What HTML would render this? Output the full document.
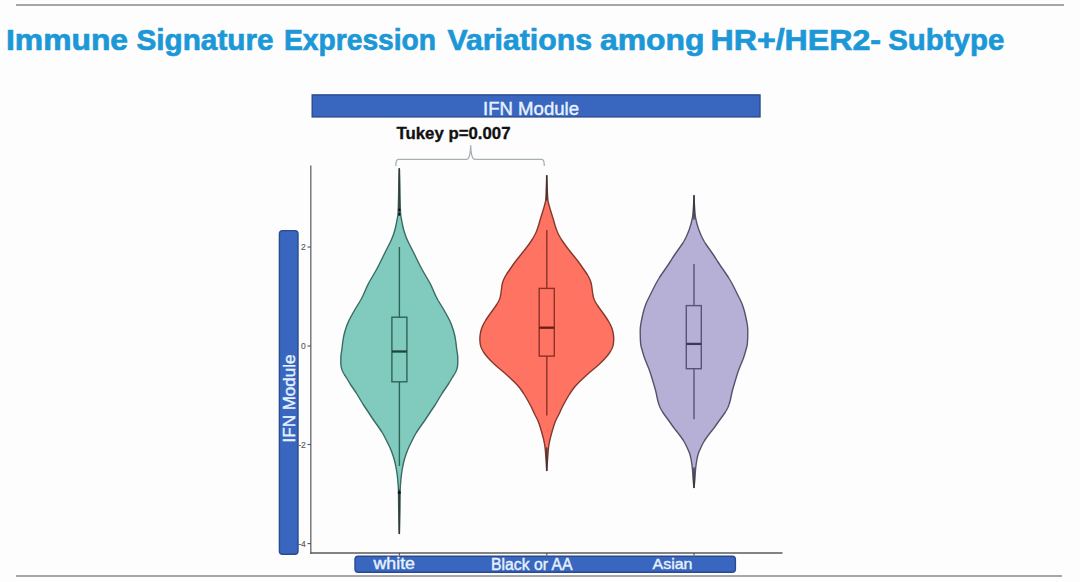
<!DOCTYPE html>
<html><head><meta charset="utf-8">
<style>
html,body{margin:0;padding:0;background:#fefdfe;}
body{width:1080px;height:582px;position:relative;overflow:hidden;font-family:"Liberation Sans",sans-serif;}
.t{position:absolute;white-space:nowrap;line-height:1;}
svg{position:absolute;left:0;top:0;}
.bx{stroke:#222;stroke-opacity:0.62;stroke-width:1.5;fill:none;}
.md{stroke:#1a1a1a;stroke-opacity:0.75;stroke-width:2.4;}
.vo{stroke:#222;stroke-opacity:0.68;stroke-width:1.45;}
</style></head><body>
<svg width="1080" height="582" viewBox="0 0 1080 582">
<line x1="16" y1="5" x2="1064" y2="5" stroke="#a6a6a6" stroke-width="2"/>
<line x1="16" y1="576" x2="1062" y2="576" stroke="#a8a8a8" stroke-width="2"/>
<rect x="312.2" y="94.9" width="447.8" height="22" fill="#3966BE" stroke="#2a4b8e" stroke-width="1.4"/>
<path d="M395.8,166 Q395.8,159.3 398.3,159.3 L466.5,159.3 Q470.4,159.3 470.7,145.2 Q471,159.3 474.9,159.3 L541.8,159.3 Q544.3,159.3 544.3,166" fill="none" stroke="#a6b0b2" stroke-width="1.3"/>
<line x1="310.8" y1="165.5" x2="310.8" y2="553.7" stroke="#707070" stroke-width="1.4"/>
<line x1="310.1" y1="553" x2="782.5" y2="553" stroke="#5a5a5a" stroke-width="1.4"/>
<g stroke="#505050" stroke-width="1.1"><line x1="399.4" y1="553" x2="399.4" y2="555.5"/><line x1="546.8" y1="553" x2="546.8" y2="555.5"/><line x1="694" y1="553" x2="694" y2="555.5"/></g>
<g stroke="#505050" stroke-width="1.1">
<line x1="307.5" y1="247" x2="310.8" y2="247"/>
<line x1="307.5" y1="346" x2="310.8" y2="346"/>
<line x1="307.5" y1="444.5" x2="310.8" y2="444.5"/>
<line x1="307.5" y1="543.6" x2="310.8" y2="543.6"/>
</g>
<g font-family="Liberation Sans" font-size="8.5" fill="#5a5a5a" stroke="#5a5a5a" stroke-width="0.15" text-anchor="end">
<text x="305.8" y="250">2</text>
<text x="305.8" y="349">0</text>
<text x="305.8" y="447.7">-2</text>
<text x="305.8" y="546.8">-4</text>
</g>
<rect x="279.4" y="230.6" width="18.6" height="323.6" rx="3.2" fill="#3966BE" stroke="#2a4b8e" stroke-width="1.4"/>
<rect x="355" y="556.3" width="380.4" height="16" rx="3.2" fill="#3966BE" stroke="#2a4b8e" stroke-width="1.4"/>
<path d="M399.30,168.00 L399.32,168.50 L399.33,169.00 L399.35,169.50 L399.37,170.00 L399.38,170.50 L399.40,171.00 L399.42,171.50 L399.43,172.00 L399.45,172.50 L399.47,173.00 L399.48,173.50 L399.50,174.00 L399.51,174.50 L399.53,175.00 L399.54,175.50 L399.56,176.00 L399.57,176.50 L399.59,177.00 L399.60,177.50 L399.62,178.00 L399.63,178.50 L399.64,179.00 L399.66,179.50 L399.67,180.00 L399.69,180.50 L399.70,181.00 L399.71,181.50 L399.73,182.00 L399.74,182.50 L399.75,183.00 L399.76,183.50 L399.78,184.00 L399.79,184.50 L399.80,185.00 L399.81,185.50 L399.82,186.00 L399.83,186.50 L399.84,187.00 L399.85,187.50 L399.86,188.00 L399.87,188.50 L399.88,189.00 L399.89,189.50 L399.90,190.00 L399.91,190.50 L399.92,191.00 L399.93,191.50 L399.94,192.00 L399.95,192.50 L399.95,193.00 L399.96,193.50 L399.97,194.00 L399.98,194.50 L399.99,195.00 L400.00,195.50 L400.01,196.00 L400.02,196.50 L400.03,197.00 L400.04,197.50 L400.05,198.00 L400.06,198.50 L400.08,199.00 L400.09,199.50 L400.10,200.00 L400.11,200.50 L400.13,201.00 L400.14,201.50 L400.15,202.00 L400.16,202.50 L400.18,203.00 L400.19,203.50 L400.20,204.00 L400.21,204.50 L400.23,205.00 L400.24,205.50 L400.26,206.00 L400.27,206.50 L400.29,207.00 L400.30,207.50 L400.32,208.00 L400.34,208.50 L400.36,209.00 L400.38,209.50 L400.40,210.00 L400.42,210.50 L400.44,211.00 L400.47,211.50 L400.50,212.00 L400.52,212.50 L400.55,213.00 L400.58,213.50 L400.61,214.00 L400.66,214.50 L400.71,215.00 L400.78,215.50 L400.85,216.00 L400.93,216.50 L401.02,217.00 L401.11,217.50 L401.20,218.00 L401.30,218.50 L401.40,219.00 L401.49,219.50 L401.59,220.00 L401.68,220.50 L401.77,221.00 L401.86,221.50 L401.96,222.00 L402.05,222.50 L402.14,223.00 L402.24,223.50 L402.34,224.00 L402.44,224.50 L402.54,225.00 L402.65,225.50 L402.76,226.00 L402.87,226.50 L402.98,227.00 L403.10,227.50 L403.22,228.00 L403.35,228.50 L403.48,229.00 L403.61,229.50 L403.75,230.00 L403.89,230.50 L404.03,231.00 L404.18,231.50 L404.33,232.00 L404.48,232.50 L404.64,233.00 L404.81,233.50 L404.97,234.00 L405.14,234.50 L405.31,235.00 L405.49,235.50 L405.68,236.00 L405.87,236.50 L406.07,237.00 L406.27,237.50 L406.47,238.00 L406.68,238.50 L406.89,239.00 L407.11,239.50 L407.33,240.00 L407.55,240.50 L407.78,241.00 L408.01,241.50 L408.24,242.00 L408.48,242.50 L408.73,243.00 L408.98,243.50 L409.23,244.00 L409.49,244.50 L409.74,245.00 L410.00,245.50 L410.26,246.00 L410.52,246.50 L410.78,247.00 L411.04,247.50 L411.29,248.00 L411.55,248.50 L411.80,249.00 L412.05,249.50 L412.30,250.00 L412.56,250.50 L412.81,251.00 L413.06,251.50 L413.31,252.00 L413.56,252.50 L413.80,253.00 L414.05,253.50 L414.30,254.00 L414.55,254.50 L414.79,255.00 L415.04,255.50 L415.28,256.00 L415.53,256.50 L415.77,257.00 L416.01,257.50 L416.25,258.00 L416.50,258.50 L416.74,259.00 L416.98,259.50 L417.23,260.00 L417.47,260.50 L417.72,261.00 L417.96,261.50 L418.21,262.00 L418.46,262.50 L418.71,263.00 L418.96,263.50 L419.21,264.00 L419.46,264.50 L419.72,265.00 L419.98,265.50 L420.23,266.00 L420.49,266.50 L420.75,267.00 L421.02,267.50 L421.28,268.00 L421.55,268.50 L421.82,269.00 L422.10,269.50 L422.37,270.00 L422.65,270.50 L422.93,271.00 L423.21,271.50 L423.49,272.00 L423.78,272.50 L424.07,273.00 L424.36,273.50 L424.64,274.00 L424.93,274.50 L425.23,275.00 L425.52,275.50 L425.81,276.00 L426.10,276.50 L426.40,277.00 L426.69,277.50 L426.99,278.00 L427.28,278.50 L427.58,279.00 L427.87,279.50 L428.17,280.00 L428.46,280.50 L428.75,281.00 L429.03,281.50 L429.31,282.00 L429.58,282.50 L429.85,283.00 L430.12,283.50 L430.38,284.00 L430.63,284.50 L430.88,285.00 L431.12,285.50 L431.36,286.00 L431.59,286.50 L431.82,287.00 L432.04,287.50 L432.27,288.00 L432.49,288.50 L432.70,289.00 L432.92,289.50 L433.13,290.00 L433.35,290.50 L433.56,291.00 L433.78,291.50 L433.99,292.00 L434.21,292.50 L434.43,293.00 L434.65,293.50 L434.87,294.00 L435.10,294.50 L435.33,295.00 L435.56,295.50 L435.80,296.00 L436.04,296.50 L436.29,297.00 L436.55,297.50 L436.81,298.00 L437.08,298.50 L437.35,299.00 L437.62,299.50 L437.91,300.00 L438.19,300.50 L438.49,301.00 L438.78,301.50 L439.08,302.00 L439.38,302.50 L439.69,303.00 L439.99,303.50 L440.30,304.00 L440.61,304.50 L440.92,305.00 L441.23,305.50 L441.54,306.00 L441.85,306.50 L442.15,307.00 L442.46,307.50 L442.76,308.00 L443.06,308.50 L443.36,309.00 L443.65,309.50 L443.94,310.00 L444.23,310.50 L444.51,311.00 L444.80,311.50 L445.08,312.00 L445.36,312.50 L445.64,313.00 L445.92,313.50 L446.19,314.00 L446.47,314.50 L446.75,315.00 L447.02,315.50 L447.29,316.00 L447.57,316.50 L447.84,317.00 L448.10,317.50 L448.37,318.00 L448.63,318.50 L448.89,319.00 L449.14,319.50 L449.39,320.00 L449.63,320.50 L449.87,321.00 L450.10,321.50 L450.33,322.00 L450.55,322.50 L450.76,323.00 L450.97,323.50 L451.17,324.00 L451.37,324.50 L451.56,325.00 L451.74,325.50 L451.92,326.00 L452.10,326.50 L452.27,327.00 L452.44,327.50 L452.61,328.00 L452.77,328.50 L452.93,329.00 L453.09,329.50 L453.24,330.00 L453.39,330.50 L453.54,331.00 L453.68,331.50 L453.82,332.00 L453.96,332.50 L454.09,333.00 L454.22,333.50 L454.35,334.00 L454.47,334.50 L454.59,335.00 L454.71,335.50 L454.82,336.00 L454.93,336.50 L455.03,337.00 L455.13,337.50 L455.22,338.00 L455.31,338.50 L455.40,339.00 L455.48,339.50 L455.56,340.00 L455.64,340.50 L455.71,341.00 L455.78,341.50 L455.85,342.00 L455.91,342.50 L455.98,343.00 L456.04,343.50 L456.10,344.00 L456.16,344.50 L456.21,345.00 L456.27,345.50 L456.33,346.00 L456.39,346.50 L456.44,347.00 L456.50,347.50 L456.57,348.00 L456.63,348.50 L456.69,349.00 L456.76,349.50 L456.83,350.00 L456.91,350.50 L456.99,351.00 L457.06,351.50 L457.14,352.00 L457.23,352.50 L457.30,353.00 L457.38,353.50 L457.45,354.00 L457.52,354.50 L457.58,355.00 L457.63,355.50 L457.67,356.00 L457.71,356.50 L457.74,357.00 L457.76,357.50 L457.77,358.00 L457.78,358.50 L457.79,359.00 L457.79,359.50 L457.80,360.00 L457.80,360.50 L457.80,361.00 L457.79,361.50 L457.79,362.00 L457.78,362.50 L457.76,363.00 L457.75,363.50 L457.72,364.00 L457.68,364.50 L457.63,365.00 L457.58,365.50 L457.51,366.00 L457.42,366.50 L457.33,367.00 L457.22,367.50 L457.10,368.00 L456.96,368.50 L456.82,369.00 L456.66,369.50 L456.49,370.00 L456.30,370.50 L456.10,371.00 L455.88,371.50 L455.64,372.00 L455.39,372.50 L455.12,373.00 L454.84,373.50 L454.54,374.00 L454.24,374.50 L453.93,375.00 L453.61,375.50 L453.29,376.00 L452.98,376.50 L452.66,377.00 L452.35,377.50 L452.04,378.00 L451.74,378.50 L451.44,379.00 L451.14,379.50 L450.84,380.00 L450.55,380.50 L450.25,381.00 L449.95,381.50 L449.65,382.00 L449.34,382.50 L449.04,383.00 L448.72,383.50 L448.41,384.00 L448.08,384.50 L447.76,385.00 L447.42,385.50 L447.08,386.00 L446.74,386.50 L446.40,387.00 L446.05,387.50 L445.70,388.00 L445.35,388.50 L445.00,389.00 L444.66,389.50 L444.32,390.00 L443.98,390.50 L443.64,391.00 L443.31,391.50 L442.99,392.00 L442.67,392.50 L442.35,393.00 L442.04,393.50 L441.73,394.00 L441.42,394.50 L441.11,395.00 L440.81,395.50 L440.51,396.00 L440.21,396.50 L439.90,397.00 L439.60,397.50 L439.31,398.00 L439.01,398.50 L438.71,399.00 L438.41,399.50 L438.11,400.00 L437.82,400.50 L437.52,401.00 L437.22,401.50 L436.92,402.00 L436.62,402.50 L436.31,403.00 L436.00,403.50 L435.69,404.00 L435.38,404.50 L435.06,405.00 L434.73,405.50 L434.41,406.00 L434.07,406.50 L433.74,407.00 L433.40,407.50 L433.06,408.00 L432.71,408.50 L432.37,409.00 L432.03,409.50 L431.68,410.00 L431.34,410.50 L431.00,411.00 L430.67,411.50 L430.33,412.00 L430.00,412.50 L429.67,413.00 L429.35,413.50 L429.02,414.00 L428.70,414.50 L428.38,415.00 L428.06,415.50 L427.74,416.00 L427.41,416.50 L427.09,417.00 L426.76,417.50 L426.43,418.00 L426.10,418.50 L425.76,419.00 L425.42,419.50 L425.08,420.00 L424.73,420.50 L424.38,421.00 L424.02,421.50 L423.66,422.00 L423.31,422.50 L422.95,423.00 L422.59,423.50 L422.23,424.00 L421.88,424.50 L421.52,425.00 L421.17,425.50 L420.81,426.00 L420.46,426.50 L420.11,427.00 L419.76,427.50 L419.42,428.00 L419.07,428.50 L418.73,429.00 L418.39,429.50 L418.05,430.00 L417.72,430.50 L417.39,431.00 L417.07,431.50 L416.75,432.00 L416.44,432.50 L416.13,433.00 L415.84,433.50 L415.54,434.00 L415.26,434.50 L414.98,435.00 L414.70,435.50 L414.43,436.00 L414.17,436.50 L413.91,437.00 L413.65,437.50 L413.40,438.00 L413.15,438.50 L412.89,439.00 L412.64,439.50 L412.39,440.00 L412.14,440.50 L411.89,441.00 L411.64,441.50 L411.39,442.00 L411.13,442.50 L410.88,443.00 L410.63,443.50 L410.38,444.00 L410.13,444.50 L409.88,445.00 L409.64,445.50 L409.40,446.00 L409.17,446.50 L408.94,447.00 L408.72,447.50 L408.50,448.00 L408.28,448.50 L408.07,449.00 L407.86,449.50 L407.66,450.00 L407.46,450.50 L407.26,451.00 L407.06,451.50 L406.87,452.00 L406.69,452.50 L406.50,453.00 L406.32,453.50 L406.14,454.00 L405.97,454.50 L405.80,455.00 L405.63,455.50 L405.46,456.00 L405.30,456.50 L405.14,457.00 L404.98,457.50 L404.83,458.00 L404.67,458.50 L404.53,459.00 L404.38,459.50 L404.24,460.00 L404.11,460.50 L403.98,461.00 L403.85,461.50 L403.73,462.00 L403.61,462.50 L403.50,463.00 L403.39,463.50 L403.28,464.00 L403.17,464.50 L403.07,465.00 L402.97,465.50 L402.87,466.00 L402.78,466.50 L402.68,467.00 L402.59,467.50 L402.50,468.00 L402.41,468.50 L402.32,469.00 L402.23,469.50 L402.15,470.00 L402.06,470.50 L401.98,471.00 L401.90,471.50 L401.82,472.00 L401.74,472.50 L401.67,473.00 L401.60,473.50 L401.53,474.00 L401.46,474.50 L401.40,475.00 L401.34,475.50 L401.28,476.00 L401.23,476.50 L401.17,477.00 L401.12,477.50 L401.07,478.00 L401.02,478.50 L400.97,479.00 L400.92,479.50 L400.87,480.00 L400.83,480.50 L400.79,481.00 L400.74,481.50 L400.70,482.00 L400.66,482.50 L400.61,483.00 L400.57,483.50 L400.53,484.00 L400.48,484.50 L400.44,485.00 L400.40,485.50 L400.36,486.00 L400.33,486.50 L400.29,487.00 L400.26,487.50 L400.24,488.00 L400.22,488.50 L400.20,489.00 L400.19,489.50 L400.17,490.00 L400.16,490.50 L400.15,491.00 L400.14,491.50 L400.13,492.00 L400.12,492.50 L400.11,493.00 L400.10,493.50 L400.10,494.00 L400.09,494.50 L400.08,495.00 L400.07,495.50 L400.07,496.00 L400.06,496.50 L400.05,497.00 L400.05,497.50 L400.04,498.00 L400.04,498.50 L400.03,499.00 L400.03,499.50 L400.02,500.00 L400.02,500.50 L400.01,501.00 L400.01,501.50 L400.00,502.00 L400.00,502.50 L399.99,503.00 L399.99,503.50 L399.98,504.00 L399.98,504.50 L399.97,505.00 L399.97,505.50 L399.96,506.00 L399.95,506.50 L399.95,507.00 L399.94,507.50 L399.93,508.00 L399.93,508.50 L399.92,509.00 L399.91,509.50 L399.90,510.00 L399.89,510.50 L399.88,511.00 L399.87,511.50 L399.86,512.00 L399.85,512.50 L399.84,513.00 L399.83,513.50 L399.82,514.00 L399.81,514.50 L399.80,515.00 L399.79,515.50 L399.78,516.00 L399.77,516.50 L399.76,517.00 L399.75,517.50 L399.73,518.00 L399.72,518.50 L399.71,519.00 L399.70,519.50 L399.69,520.00 L399.68,520.50 L399.66,521.00 L399.65,521.50 L399.64,522.00 L399.63,522.50 L399.61,523.00 L399.60,523.50 L399.59,524.00 L399.57,524.50 L399.56,525.00 L399.55,525.50 L399.53,526.00 L399.52,526.50 L399.51,527.00 L399.49,527.50 L399.48,528.00 L399.46,528.50 L399.45,529.00 L399.43,529.50 L399.42,530.00 L399.41,530.50 L399.39,531.00 L399.38,531.50 L399.36,532.00 L399.35,532.50 L399.33,533.00 L399.32,533.50 L399.30,534.00 L399.30,534.00 L399.28,533.50 L399.27,533.00 L399.25,532.50 L399.24,532.00 L399.22,531.50 L399.21,531.00 L399.19,530.50 L399.18,530.00 L399.17,529.50 L399.15,529.00 L399.14,528.50 L399.12,528.00 L399.11,527.50 L399.09,527.00 L399.08,526.50 L399.07,526.00 L399.05,525.50 L399.04,525.00 L399.03,524.50 L399.01,524.00 L399.00,523.50 L398.99,523.00 L398.97,522.50 L398.96,522.00 L398.95,521.50 L398.94,521.00 L398.92,520.50 L398.91,520.00 L398.90,519.50 L398.89,519.00 L398.88,518.50 L398.87,518.00 L398.85,517.50 L398.84,517.00 L398.83,516.50 L398.82,516.00 L398.81,515.50 L398.80,515.00 L398.79,514.50 L398.78,514.00 L398.77,513.50 L398.76,513.00 L398.75,512.50 L398.74,512.00 L398.73,511.50 L398.72,511.00 L398.71,510.50 L398.70,510.00 L398.69,509.50 L398.68,509.00 L398.67,508.50 L398.67,508.00 L398.66,507.50 L398.65,507.00 L398.65,506.50 L398.64,506.00 L398.63,505.50 L398.63,505.00 L398.62,504.50 L398.62,504.00 L398.61,503.50 L398.61,503.00 L398.60,502.50 L398.60,502.00 L398.59,501.50 L398.59,501.00 L398.58,500.50 L398.58,500.00 L398.57,499.50 L398.57,499.00 L398.56,498.50 L398.56,498.00 L398.55,497.50 L398.55,497.00 L398.54,496.50 L398.53,496.00 L398.53,495.50 L398.52,495.00 L398.51,494.50 L398.50,494.00 L398.50,493.50 L398.49,493.00 L398.48,492.50 L398.47,492.00 L398.46,491.50 L398.45,491.00 L398.44,490.50 L398.43,490.00 L398.41,489.50 L398.40,489.00 L398.38,488.50 L398.36,488.00 L398.34,487.50 L398.31,487.00 L398.27,486.50 L398.24,486.00 L398.20,485.50 L398.16,485.00 L398.12,484.50 L398.07,484.00 L398.03,483.50 L397.99,483.00 L397.94,482.50 L397.90,482.00 L397.86,481.50 L397.81,481.00 L397.77,480.50 L397.73,480.00 L397.68,479.50 L397.63,479.00 L397.58,478.50 L397.53,478.00 L397.48,477.50 L397.43,477.00 L397.37,476.50 L397.32,476.00 L397.26,475.50 L397.20,475.00 L397.14,474.50 L397.07,474.00 L397.00,473.50 L396.93,473.00 L396.86,472.50 L396.78,472.00 L396.70,471.50 L396.62,471.00 L396.54,470.50 L396.45,470.00 L396.37,469.50 L396.28,469.00 L396.19,468.50 L396.10,468.00 L396.01,467.50 L395.92,467.00 L395.82,466.50 L395.73,466.00 L395.63,465.50 L395.53,465.00 L395.43,464.50 L395.32,464.00 L395.21,463.50 L395.10,463.00 L394.99,462.50 L394.87,462.00 L394.75,461.50 L394.62,461.00 L394.49,460.50 L394.36,460.00 L394.22,459.50 L394.07,459.00 L393.93,458.50 L393.77,458.00 L393.62,457.50 L393.46,457.00 L393.30,456.50 L393.14,456.00 L392.97,455.50 L392.80,455.00 L392.63,454.50 L392.46,454.00 L392.28,453.50 L392.10,453.00 L391.91,452.50 L391.73,452.00 L391.54,451.50 L391.34,451.00 L391.14,450.50 L390.94,450.00 L390.74,449.50 L390.53,449.00 L390.32,448.50 L390.10,448.00 L389.88,447.50 L389.66,447.00 L389.43,446.50 L389.20,446.00 L388.96,445.50 L388.72,445.00 L388.47,444.50 L388.22,444.00 L387.97,443.50 L387.72,443.00 L387.47,442.50 L387.21,442.00 L386.96,441.50 L386.71,441.00 L386.46,440.50 L386.21,440.00 L385.96,439.50 L385.71,439.00 L385.45,438.50 L385.20,438.00 L384.95,437.50 L384.69,437.00 L384.43,436.50 L384.17,436.00 L383.90,435.50 L383.62,435.00 L383.34,434.50 L383.06,434.00 L382.76,433.50 L382.47,433.00 L382.16,432.50 L381.85,432.00 L381.53,431.50 L381.21,431.00 L380.88,430.50 L380.55,430.00 L380.21,429.50 L379.87,429.00 L379.53,428.50 L379.18,428.00 L378.84,427.50 L378.49,427.00 L378.14,426.50 L377.79,426.00 L377.43,425.50 L377.08,425.00 L376.72,424.50 L376.37,424.00 L376.01,423.50 L375.65,423.00 L375.29,422.50 L374.94,422.00 L374.58,421.50 L374.22,421.00 L373.87,420.50 L373.52,420.00 L373.18,419.50 L372.84,419.00 L372.50,418.50 L372.17,418.00 L371.84,417.50 L371.51,417.00 L371.19,416.50 L370.86,416.00 L370.54,415.50 L370.22,415.00 L369.90,414.50 L369.58,414.00 L369.25,413.50 L368.93,413.00 L368.60,412.50 L368.27,412.00 L367.93,411.50 L367.60,411.00 L367.26,410.50 L366.92,410.00 L366.57,409.50 L366.23,409.00 L365.89,408.50 L365.54,408.00 L365.20,407.50 L364.86,407.00 L364.53,406.50 L364.19,406.00 L363.87,405.50 L363.54,405.00 L363.22,404.50 L362.91,404.00 L362.60,403.50 L362.29,403.00 L361.98,402.50 L361.68,402.00 L361.38,401.50 L361.08,401.00 L360.78,400.50 L360.49,400.00 L360.19,399.50 L359.89,399.00 L359.59,398.50 L359.29,398.00 L359.00,397.50 L358.70,397.00 L358.39,396.50 L358.09,396.00 L357.79,395.50 L357.49,395.00 L357.18,394.50 L356.87,394.00 L356.56,393.50 L356.25,393.00 L355.93,392.50 L355.61,392.00 L355.29,391.50 L354.96,391.00 L354.62,390.50 L354.28,390.00 L353.94,389.50 L353.60,389.00 L353.25,388.50 L352.90,388.00 L352.55,387.50 L352.20,387.00 L351.86,386.50 L351.52,386.00 L351.18,385.50 L350.84,385.00 L350.52,384.50 L350.19,384.00 L349.88,383.50 L349.56,383.00 L349.26,382.50 L348.95,382.00 L348.65,381.50 L348.35,381.00 L348.05,380.50 L347.76,380.00 L347.46,379.50 L347.16,379.00 L346.86,378.50 L346.56,378.00 L346.25,377.50 L345.94,377.00 L345.62,376.50 L345.31,376.00 L344.99,375.50 L344.67,375.00 L344.36,374.50 L344.06,374.00 L343.76,373.50 L343.48,373.00 L343.21,372.50 L342.96,372.00 L342.72,371.50 L342.50,371.00 L342.30,370.50 L342.11,370.00 L341.94,369.50 L341.78,369.00 L341.64,368.50 L341.50,368.00 L341.38,367.50 L341.27,367.00 L341.18,366.50 L341.09,366.00 L341.02,365.50 L340.97,365.00 L340.92,364.50 L340.88,364.00 L340.85,363.50 L340.84,363.00 L340.82,362.50 L340.81,362.00 L340.81,361.50 L340.80,361.00 L340.80,360.50 L340.80,360.00 L340.81,359.50 L340.81,359.00 L340.82,358.50 L340.83,358.00 L340.84,357.50 L340.86,357.00 L340.89,356.50 L340.93,356.00 L340.97,355.50 L341.02,355.00 L341.08,354.50 L341.15,354.00 L341.22,353.50 L341.30,353.00 L341.37,352.50 L341.46,352.00 L341.54,351.50 L341.61,351.00 L341.69,350.50 L341.77,350.00 L341.84,349.50 L341.91,349.00 L341.97,348.50 L342.03,348.00 L342.10,347.50 L342.16,347.00 L342.21,346.50 L342.27,346.00 L342.33,345.50 L342.39,345.00 L342.44,344.50 L342.50,344.00 L342.56,343.50 L342.62,343.00 L342.69,342.50 L342.75,342.00 L342.82,341.50 L342.89,341.00 L342.96,340.50 L343.04,340.00 L343.12,339.50 L343.20,339.00 L343.29,338.50 L343.38,338.00 L343.47,337.50 L343.57,337.00 L343.67,336.50 L343.78,336.00 L343.89,335.50 L344.01,335.00 L344.13,334.50 L344.25,334.00 L344.38,333.50 L344.51,333.00 L344.64,332.50 L344.78,332.00 L344.92,331.50 L345.06,331.00 L345.21,330.50 L345.36,330.00 L345.51,329.50 L345.67,329.00 L345.83,328.50 L345.99,328.00 L346.16,327.50 L346.33,327.00 L346.50,326.50 L346.68,326.00 L346.86,325.50 L347.04,325.00 L347.23,324.50 L347.43,324.00 L347.63,323.50 L347.84,323.00 L348.05,322.50 L348.27,322.00 L348.50,321.50 L348.73,321.00 L348.97,320.50 L349.21,320.00 L349.46,319.50 L349.71,319.00 L349.97,318.50 L350.23,318.00 L350.50,317.50 L350.76,317.00 L351.03,316.50 L351.31,316.00 L351.58,315.50 L351.85,315.00 L352.13,314.50 L352.41,314.00 L352.68,313.50 L352.96,313.00 L353.24,312.50 L353.52,312.00 L353.80,311.50 L354.09,311.00 L354.37,310.50 L354.66,310.00 L354.95,309.50 L355.24,309.00 L355.54,308.50 L355.84,308.00 L356.14,307.50 L356.45,307.00 L356.75,306.50 L357.06,306.00 L357.37,305.50 L357.68,305.00 L357.99,304.50 L358.30,304.00 L358.61,303.50 L358.91,303.00 L359.22,302.50 L359.52,302.00 L359.82,301.50 L360.11,301.00 L360.41,300.50 L360.69,300.00 L360.98,299.50 L361.25,299.00 L361.52,298.50 L361.79,298.00 L362.05,297.50 L362.31,297.00 L362.56,296.50 L362.80,296.00 L363.04,295.50 L363.27,295.00 L363.50,294.50 L363.73,294.00 L363.95,293.50 L364.17,293.00 L364.39,292.50 L364.61,292.00 L364.82,291.50 L365.04,291.00 L365.25,290.50 L365.47,290.00 L365.68,289.50 L365.90,289.00 L366.11,288.50 L366.33,288.00 L366.56,287.50 L366.78,287.00 L367.01,286.50 L367.24,286.00 L367.48,285.50 L367.72,285.00 L367.97,284.50 L368.22,284.00 L368.48,283.50 L368.75,283.00 L369.02,282.50 L369.29,282.00 L369.57,281.50 L369.85,281.00 L370.14,280.50 L370.43,280.00 L370.73,279.50 L371.02,279.00 L371.32,278.50 L371.61,278.00 L371.91,277.50 L372.20,277.00 L372.50,276.50 L372.79,276.00 L373.08,275.50 L373.37,275.00 L373.67,274.50 L373.96,274.00 L374.24,273.50 L374.53,273.00 L374.82,272.50 L375.11,272.00 L375.39,271.50 L375.67,271.00 L375.95,270.50 L376.23,270.00 L376.50,269.50 L376.78,269.00 L377.05,268.50 L377.32,268.00 L377.58,267.50 L377.85,267.00 L378.11,266.50 L378.37,266.00 L378.62,265.50 L378.88,265.00 L379.14,264.50 L379.39,264.00 L379.64,263.50 L379.89,263.00 L380.14,262.50 L380.39,262.00 L380.64,261.50 L380.88,261.00 L381.13,260.50 L381.37,260.00 L381.62,259.50 L381.86,259.00 L382.10,258.50 L382.35,258.00 L382.59,257.50 L382.83,257.00 L383.07,256.50 L383.32,256.00 L383.56,255.50 L383.81,255.00 L384.05,254.50 L384.30,254.00 L384.55,253.50 L384.80,253.00 L385.04,252.50 L385.29,252.00 L385.54,251.50 L385.79,251.00 L386.04,250.50 L386.30,250.00 L386.55,249.50 L386.80,249.00 L387.05,248.50 L387.31,248.00 L387.56,247.50 L387.82,247.00 L388.08,246.50 L388.34,246.00 L388.60,245.50 L388.86,245.00 L389.11,244.50 L389.37,244.00 L389.62,243.50 L389.87,243.00 L390.12,242.50 L390.36,242.00 L390.59,241.50 L390.82,241.00 L391.05,240.50 L391.27,240.00 L391.49,239.50 L391.71,239.00 L391.92,238.50 L392.13,238.00 L392.33,237.50 L392.53,237.00 L392.73,236.50 L392.92,236.00 L393.11,235.50 L393.29,235.00 L393.46,234.50 L393.63,234.00 L393.79,233.50 L393.96,233.00 L394.12,232.50 L394.27,232.00 L394.42,231.50 L394.57,231.00 L394.71,230.50 L394.85,230.00 L394.99,229.50 L395.12,229.00 L395.25,228.50 L395.38,228.00 L395.50,227.50 L395.62,227.00 L395.73,226.50 L395.84,226.00 L395.95,225.50 L396.06,225.00 L396.16,224.50 L396.26,224.00 L396.36,223.50 L396.46,223.00 L396.55,222.50 L396.64,222.00 L396.74,221.50 L396.83,221.00 L396.92,220.50 L397.01,220.00 L397.11,219.50 L397.20,219.00 L397.30,218.50 L397.40,218.00 L397.49,217.50 L397.58,217.00 L397.67,216.50 L397.75,216.00 L397.82,215.50 L397.89,215.00 L397.94,214.50 L397.99,214.00 L398.02,213.50 L398.05,213.00 L398.08,212.50 L398.10,212.00 L398.13,211.50 L398.16,211.00 L398.18,210.50 L398.20,210.00 L398.22,209.50 L398.24,209.00 L398.26,208.50 L398.28,208.00 L398.30,207.50 L398.31,207.00 L398.33,206.50 L398.34,206.00 L398.36,205.50 L398.37,205.00 L398.39,204.50 L398.40,204.00 L398.41,203.50 L398.42,203.00 L398.44,202.50 L398.45,202.00 L398.46,201.50 L398.47,201.00 L398.49,200.50 L398.50,200.00 L398.51,199.50 L398.52,199.00 L398.54,198.50 L398.55,198.00 L398.56,197.50 L398.57,197.00 L398.58,196.50 L398.59,196.00 L398.60,195.50 L398.61,195.00 L398.62,194.50 L398.63,194.00 L398.64,193.50 L398.65,193.00 L398.65,192.50 L398.66,192.00 L398.67,191.50 L398.68,191.00 L398.69,190.50 L398.70,190.00 L398.71,189.50 L398.72,189.00 L398.73,188.50 L398.74,188.00 L398.75,187.50 L398.76,187.00 L398.77,186.50 L398.78,186.00 L398.79,185.50 L398.80,185.00 L398.81,184.50 L398.82,184.00 L398.84,183.50 L398.85,183.00 L398.86,182.50 L398.87,182.00 L398.89,181.50 L398.90,181.00 L398.91,180.50 L398.93,180.00 L398.94,179.50 L398.96,179.00 L398.97,178.50 L398.98,178.00 L399.00,177.50 L399.01,177.00 L399.03,176.50 L399.04,176.00 L399.06,175.50 L399.07,175.00 L399.09,174.50 L399.10,174.00 L399.12,173.50 L399.13,173.00 L399.15,172.50 L399.17,172.00 L399.18,171.50 L399.20,171.00 L399.22,170.50 L399.23,170.00 L399.25,169.50 L399.27,169.00 L399.28,168.50 L399.30,168.00Z" fill="#80CBBE" stroke="#3a6a60" stroke-width="1.4"/>
<path d="M546.80,175.00 L546.81,175.50 L546.82,176.00 L546.83,176.50 L546.84,177.00 L546.85,177.50 L546.86,178.00 L546.88,178.50 L546.89,179.00 L546.90,179.50 L546.92,180.00 L546.93,180.50 L546.95,181.00 L546.97,181.50 L546.98,182.00 L547.00,182.50 L547.02,183.00 L547.04,183.50 L547.05,184.00 L547.07,184.50 L547.09,185.00 L547.11,185.50 L547.13,186.00 L547.15,186.50 L547.17,187.00 L547.19,187.50 L547.21,188.00 L547.24,188.50 L547.26,189.00 L547.28,189.50 L547.30,190.00 L547.32,190.50 L547.34,191.00 L547.36,191.50 L547.39,192.00 L547.41,192.50 L547.43,193.00 L547.45,193.50 L547.48,194.00 L547.50,194.50 L547.53,195.00 L547.56,195.50 L547.59,196.00 L547.62,196.50 L547.65,197.00 L547.69,197.50 L547.72,198.00 L547.76,198.50 L547.81,199.00 L547.85,199.50 L547.90,200.00 L547.96,200.50 L548.03,201.00 L548.12,201.50 L548.22,202.00 L548.33,202.50 L548.45,203.00 L548.57,203.50 L548.70,204.00 L548.84,204.50 L548.98,205.00 L549.12,205.50 L549.26,206.00 L549.39,206.50 L549.53,207.00 L549.66,207.50 L549.80,208.00 L549.95,208.50 L550.10,209.00 L550.25,209.50 L550.40,210.00 L550.56,210.50 L550.72,211.00 L550.88,211.50 L551.04,212.00 L551.19,212.50 L551.35,213.00 L551.51,213.50 L551.66,214.00 L551.82,214.50 L551.97,215.00 L552.13,215.50 L552.28,216.00 L552.44,216.50 L552.59,217.00 L552.75,217.50 L552.90,218.00 L553.06,218.50 L553.21,219.00 L553.37,219.50 L553.52,220.00 L553.67,220.50 L553.81,221.00 L553.96,221.50 L554.10,222.00 L554.24,222.50 L554.38,223.00 L554.52,223.50 L554.66,224.00 L554.80,224.50 L554.94,225.00 L555.09,225.50 L555.24,226.00 L555.39,226.50 L555.55,227.00 L555.72,227.50 L555.89,228.00 L556.06,228.50 L556.24,229.00 L556.43,229.50 L556.62,230.00 L556.82,230.50 L557.02,231.00 L557.22,231.50 L557.44,232.00 L557.65,232.50 L557.88,233.00 L558.11,233.50 L558.35,234.00 L558.59,234.50 L558.84,235.00 L559.11,235.50 L559.38,236.00 L559.66,236.50 L559.94,237.00 L560.23,237.50 L560.53,238.00 L560.84,238.50 L561.15,239.00 L561.46,239.50 L561.78,240.00 L562.11,240.50 L562.43,241.00 L562.77,241.50 L563.10,242.00 L563.44,242.50 L563.79,243.00 L564.14,243.50 L564.49,244.00 L564.85,244.50 L565.21,245.00 L565.57,245.50 L565.94,246.00 L566.31,246.50 L566.69,247.00 L567.07,247.50 L567.45,248.00 L567.83,248.50 L568.22,249.00 L568.61,249.50 L569.00,250.00 L569.39,250.50 L569.79,251.00 L570.19,251.50 L570.59,252.00 L570.99,252.50 L571.39,253.00 L571.79,253.50 L572.20,254.00 L572.60,254.50 L573.00,255.00 L573.41,255.50 L573.81,256.00 L574.21,256.50 L574.62,257.00 L575.02,257.50 L575.42,258.00 L575.82,258.50 L576.22,259.00 L576.61,259.50 L577.01,260.00 L577.39,260.50 L577.78,261.00 L578.16,261.50 L578.53,262.00 L578.90,262.50 L579.27,263.00 L579.63,263.50 L579.99,264.00 L580.34,264.50 L580.69,265.00 L581.04,265.50 L581.39,266.00 L581.73,266.50 L582.08,267.00 L582.42,267.50 L582.77,268.00 L583.11,268.50 L583.46,269.00 L583.81,269.50 L584.16,270.00 L584.51,270.50 L584.86,271.00 L585.21,271.50 L585.56,272.00 L585.91,272.50 L586.25,273.00 L586.58,273.50 L586.91,274.00 L587.23,274.50 L587.54,275.00 L587.84,275.50 L588.13,276.00 L588.40,276.50 L588.67,277.00 L588.93,277.50 L589.18,278.00 L589.42,278.50 L589.65,279.00 L589.87,279.50 L590.08,280.00 L590.28,280.50 L590.46,281.00 L590.64,281.50 L590.81,282.00 L590.96,282.50 L591.10,283.00 L591.23,283.50 L591.34,284.00 L591.45,284.50 L591.54,285.00 L591.63,285.50 L591.71,286.00 L591.78,286.50 L591.85,287.00 L591.92,287.50 L591.98,288.00 L592.04,288.50 L592.11,289.00 L592.17,289.50 L592.23,290.00 L592.30,290.50 L592.36,291.00 L592.43,291.50 L592.50,292.00 L592.57,292.50 L592.64,293.00 L592.71,293.50 L592.79,294.00 L592.87,294.50 L592.96,295.00 L593.05,295.50 L593.16,296.00 L593.27,296.50 L593.39,297.00 L593.53,297.50 L593.69,298.00 L593.85,298.50 L594.04,299.00 L594.24,299.50 L594.45,300.00 L594.69,300.50 L594.93,301.00 L595.19,301.50 L595.45,302.00 L595.73,302.50 L596.02,303.00 L596.31,303.50 L596.61,304.00 L596.92,304.50 L597.24,305.00 L597.56,305.50 L597.89,306.00 L598.23,306.50 L598.58,307.00 L598.93,307.50 L599.28,308.00 L599.64,308.50 L600.01,309.00 L600.37,309.50 L600.74,310.00 L601.10,310.50 L601.47,311.00 L601.83,311.50 L602.20,312.00 L602.56,312.50 L602.92,313.00 L603.28,313.50 L603.64,314.00 L603.99,314.50 L604.35,315.00 L604.70,315.50 L605.05,316.00 L605.39,316.50 L605.73,317.00 L606.07,317.50 L606.41,318.00 L606.74,318.50 L607.07,319.00 L607.39,319.50 L607.71,320.00 L608.03,320.50 L608.34,321.00 L608.64,321.50 L608.94,322.00 L609.22,322.50 L609.50,323.00 L609.77,323.50 L610.03,324.00 L610.28,324.50 L610.53,325.00 L610.76,325.50 L610.98,326.00 L611.20,326.50 L611.40,327.00 L611.60,327.50 L611.79,328.00 L611.97,328.50 L612.14,329.00 L612.30,329.50 L612.45,330.00 L612.59,330.50 L612.72,331.00 L612.84,331.50 L612.95,332.00 L613.05,332.50 L613.15,333.00 L613.23,333.50 L613.31,334.00 L613.39,334.50 L613.46,335.00 L613.52,335.50 L613.57,336.00 L613.62,336.50 L613.65,337.00 L613.69,337.50 L613.71,338.00 L613.72,338.50 L613.72,339.00 L613.72,339.50 L613.71,340.00 L613.69,340.50 L613.66,341.00 L613.62,341.50 L613.58,342.00 L613.53,342.50 L613.47,343.00 L613.40,343.50 L613.32,344.00 L613.23,344.50 L613.13,345.00 L613.02,345.50 L612.89,346.00 L612.74,346.50 L612.57,347.00 L612.39,347.50 L612.19,348.00 L611.97,348.50 L611.73,349.00 L611.48,349.50 L611.22,350.00 L610.94,350.50 L610.66,351.00 L610.36,351.50 L610.04,352.00 L609.72,352.50 L609.38,353.00 L609.04,353.50 L608.67,354.00 L608.30,354.50 L607.91,355.00 L607.51,355.50 L607.10,356.00 L606.68,356.50 L606.25,357.00 L605.82,357.50 L605.37,358.00 L604.92,358.50 L604.47,359.00 L604.00,359.50 L603.53,360.00 L603.05,360.50 L602.56,361.00 L602.07,361.50 L601.57,362.00 L601.06,362.50 L600.54,363.00 L600.02,363.50 L599.48,364.00 L598.94,364.50 L598.39,365.00 L597.84,365.50 L597.27,366.00 L596.70,366.50 L596.12,367.00 L595.53,367.50 L594.94,368.00 L594.34,368.50 L593.73,369.00 L593.13,369.50 L592.53,370.00 L591.92,370.50 L591.33,371.00 L590.73,371.50 L590.14,372.00 L589.56,372.50 L588.98,373.00 L588.41,373.50 L587.85,374.00 L587.29,374.50 L586.73,375.00 L586.18,375.50 L585.64,376.00 L585.10,376.50 L584.56,377.00 L584.02,377.50 L583.49,378.00 L582.96,378.50 L582.43,379.00 L581.90,379.50 L581.37,380.00 L580.85,380.50 L580.33,381.00 L579.81,381.50 L579.29,382.00 L578.79,382.50 L578.28,383.00 L577.79,383.50 L577.30,384.00 L576.83,384.50 L576.36,385.00 L575.91,385.50 L575.47,386.00 L575.04,386.50 L574.62,387.00 L574.22,387.50 L573.82,388.00 L573.44,388.50 L573.06,389.00 L572.69,389.50 L572.33,390.00 L571.98,390.50 L571.63,391.00 L571.29,391.50 L570.96,392.00 L570.63,392.50 L570.30,393.00 L569.98,393.50 L569.66,394.00 L569.35,394.50 L569.04,395.00 L568.73,395.50 L568.43,396.00 L568.13,396.50 L567.84,397.00 L567.54,397.50 L567.25,398.00 L566.96,398.50 L566.68,399.00 L566.39,399.50 L566.10,400.00 L565.82,400.50 L565.53,401.00 L565.25,401.50 L564.97,402.00 L564.68,402.50 L564.41,403.00 L564.13,403.50 L563.85,404.00 L563.58,404.50 L563.32,405.00 L563.06,405.50 L562.80,406.00 L562.54,406.50 L562.30,407.00 L562.05,407.50 L561.81,408.00 L561.58,408.50 L561.35,409.00 L561.12,409.50 L560.90,410.00 L560.67,410.50 L560.45,411.00 L560.23,411.50 L560.00,412.00 L559.77,412.50 L559.54,413.00 L559.31,413.50 L559.07,414.00 L558.82,414.50 L558.57,415.00 L558.31,415.50 L558.04,416.00 L557.78,416.50 L557.51,417.00 L557.25,417.50 L556.98,418.00 L556.72,418.50 L556.47,419.00 L556.23,419.50 L556.00,420.00 L555.77,420.50 L555.56,421.00 L555.36,421.50 L555.16,422.00 L554.98,422.50 L554.79,423.00 L554.61,423.50 L554.44,424.00 L554.27,424.50 L554.10,425.00 L553.94,425.50 L553.78,426.00 L553.62,426.50 L553.46,427.00 L553.30,427.50 L553.15,428.00 L552.99,428.50 L552.84,429.00 L552.69,429.50 L552.54,430.00 L552.39,430.50 L552.24,431.00 L552.10,431.50 L551.96,432.00 L551.82,432.50 L551.68,433.00 L551.54,433.50 L551.41,434.00 L551.27,434.50 L551.14,435.00 L551.01,435.50 L550.87,436.00 L550.74,436.50 L550.61,437.00 L550.48,437.50 L550.35,438.00 L550.23,438.50 L550.10,439.00 L549.99,439.50 L549.87,440.00 L549.76,440.50 L549.66,441.00 L549.56,441.50 L549.46,442.00 L549.37,442.50 L549.28,443.00 L549.19,443.50 L549.10,444.00 L549.01,444.50 L548.93,445.00 L548.85,445.50 L548.78,446.00 L548.70,446.50 L548.64,447.00 L548.57,447.50 L548.51,448.00 L548.46,448.50 L548.40,449.00 L548.35,449.50 L548.31,450.00 L548.26,450.50 L548.22,451.00 L548.17,451.50 L548.13,452.00 L548.09,452.50 L548.05,453.00 L548.02,453.50 L547.98,454.00 L547.94,454.50 L547.90,455.00 L547.86,455.50 L547.82,456.00 L547.78,456.50 L547.75,457.00 L547.71,457.50 L547.67,458.00 L547.63,458.50 L547.59,459.00 L547.56,459.50 L547.52,460.00 L547.48,460.50 L547.45,461.00 L547.41,461.50 L547.38,462.00 L547.34,462.50 L547.31,463.00 L547.27,463.50 L547.24,464.00 L547.20,464.50 L547.17,465.00 L547.14,465.50 L547.10,466.00 L547.07,466.50 L547.04,467.00 L547.01,467.50 L546.98,468.00 L546.95,468.50 L546.92,469.00 L546.89,469.50 L546.86,470.00 L546.83,470.50 L546.80,471.00 L546.80,471.00 L546.77,470.50 L546.74,470.00 L546.71,469.50 L546.68,469.00 L546.65,468.50 L546.62,468.00 L546.59,467.50 L546.56,467.00 L546.53,466.50 L546.50,466.00 L546.46,465.50 L546.43,465.00 L546.40,464.50 L546.36,464.00 L546.33,463.50 L546.29,463.00 L546.26,462.50 L546.22,462.00 L546.19,461.50 L546.15,461.00 L546.12,460.50 L546.08,460.00 L546.04,459.50 L546.01,459.00 L545.97,458.50 L545.93,458.00 L545.89,457.50 L545.85,457.00 L545.82,456.50 L545.78,456.00 L545.74,455.50 L545.70,455.00 L545.66,454.50 L545.62,454.00 L545.58,453.50 L545.55,453.00 L545.51,452.50 L545.47,452.00 L545.43,451.50 L545.38,451.00 L545.34,450.50 L545.29,450.00 L545.25,449.50 L545.20,449.00 L545.14,448.50 L545.09,448.00 L545.03,447.50 L544.96,447.00 L544.90,446.50 L544.82,446.00 L544.75,445.50 L544.67,445.00 L544.59,444.50 L544.50,444.00 L544.41,443.50 L544.32,443.00 L544.23,442.50 L544.14,442.00 L544.04,441.50 L543.94,441.00 L543.84,440.50 L543.73,440.00 L543.61,439.50 L543.50,439.00 L543.37,438.50 L543.25,438.00 L543.12,437.50 L542.99,437.00 L542.86,436.50 L542.73,436.00 L542.59,435.50 L542.46,435.00 L542.33,434.50 L542.19,434.00 L542.06,433.50 L541.92,433.00 L541.78,432.50 L541.64,432.00 L541.50,431.50 L541.36,431.00 L541.21,430.50 L541.06,430.00 L540.91,429.50 L540.76,429.00 L540.61,428.50 L540.45,428.00 L540.30,427.50 L540.14,427.00 L539.98,426.50 L539.82,426.00 L539.66,425.50 L539.50,425.00 L539.33,424.50 L539.16,424.00 L538.99,423.50 L538.81,423.00 L538.62,422.50 L538.44,422.00 L538.24,421.50 L538.04,421.00 L537.83,420.50 L537.60,420.00 L537.37,419.50 L537.13,419.00 L536.88,418.50 L536.62,418.00 L536.35,417.50 L536.09,417.00 L535.82,416.50 L535.56,416.00 L535.29,415.50 L535.03,415.00 L534.78,414.50 L534.53,414.00 L534.29,413.50 L534.06,413.00 L533.83,412.50 L533.60,412.00 L533.37,411.50 L533.15,411.00 L532.93,410.50 L532.70,410.00 L532.48,409.50 L532.25,409.00 L532.02,408.50 L531.79,408.00 L531.55,407.50 L531.30,407.00 L531.06,406.50 L530.80,406.00 L530.54,405.50 L530.28,405.00 L530.02,404.50 L529.75,404.00 L529.47,403.50 L529.19,403.00 L528.92,402.50 L528.63,402.00 L528.35,401.50 L528.07,401.00 L527.78,400.50 L527.50,400.00 L527.21,399.50 L526.92,399.00 L526.64,398.50 L526.35,398.00 L526.06,397.50 L525.76,397.00 L525.47,396.50 L525.17,396.00 L524.87,395.50 L524.56,395.00 L524.25,394.50 L523.94,394.00 L523.62,393.50 L523.30,393.00 L522.97,392.50 L522.64,392.00 L522.31,391.50 L521.97,391.00 L521.62,390.50 L521.27,390.00 L520.91,389.50 L520.54,389.00 L520.16,388.50 L519.78,388.00 L519.38,387.50 L518.98,387.00 L518.56,386.50 L518.13,386.00 L517.69,385.50 L517.24,385.00 L516.77,384.50 L516.30,384.00 L515.81,383.50 L515.32,383.00 L514.81,382.50 L514.31,382.00 L513.79,381.50 L513.27,381.00 L512.75,380.50 L512.23,380.00 L511.70,379.50 L511.17,379.00 L510.64,378.50 L510.11,378.00 L509.58,377.50 L509.04,377.00 L508.50,376.50 L507.96,376.00 L507.42,375.50 L506.87,375.00 L506.31,374.50 L505.75,374.00 L505.19,373.50 L504.62,373.00 L504.04,372.50 L503.46,372.00 L502.87,371.50 L502.27,371.00 L501.68,370.50 L501.07,370.00 L500.47,369.50 L499.87,369.00 L499.26,368.50 L498.66,368.00 L498.07,367.50 L497.48,367.00 L496.90,366.50 L496.33,366.00 L495.76,365.50 L495.21,365.00 L494.66,364.50 L494.12,364.00 L493.58,363.50 L493.06,363.00 L492.54,362.50 L492.03,362.00 L491.53,361.50 L491.04,361.00 L490.55,360.50 L490.07,360.00 L489.60,359.50 L489.13,359.00 L488.68,358.50 L488.23,358.00 L487.78,357.50 L487.35,357.00 L486.92,356.50 L486.50,356.00 L486.09,355.50 L485.69,355.00 L485.30,354.50 L484.93,354.00 L484.56,353.50 L484.22,353.00 L483.88,352.50 L483.56,352.00 L483.24,351.50 L482.94,351.00 L482.66,350.50 L482.38,350.00 L482.12,349.50 L481.87,349.00 L481.63,348.50 L481.41,348.00 L481.21,347.50 L481.03,347.00 L480.86,346.50 L480.71,346.00 L480.58,345.50 L480.47,345.00 L480.37,344.50 L480.28,344.00 L480.20,343.50 L480.13,343.00 L480.07,342.50 L480.02,342.00 L479.98,341.50 L479.94,341.00 L479.91,340.50 L479.89,340.00 L479.88,339.50 L479.88,339.00 L479.88,338.50 L479.89,338.00 L479.91,337.50 L479.95,337.00 L479.98,336.50 L480.03,336.00 L480.08,335.50 L480.14,335.00 L480.21,334.50 L480.29,334.00 L480.37,333.50 L480.45,333.00 L480.55,332.50 L480.65,332.00 L480.76,331.50 L480.88,331.00 L481.01,330.50 L481.15,330.00 L481.30,329.50 L481.46,329.00 L481.63,328.50 L481.81,328.00 L482.00,327.50 L482.20,327.00 L482.40,326.50 L482.62,326.00 L482.84,325.50 L483.07,325.00 L483.32,324.50 L483.57,324.00 L483.83,323.50 L484.10,323.00 L484.38,322.50 L484.66,322.00 L484.96,321.50 L485.26,321.00 L485.57,320.50 L485.89,320.00 L486.21,319.50 L486.53,319.00 L486.86,318.50 L487.19,318.00 L487.53,317.50 L487.87,317.00 L488.21,316.50 L488.55,316.00 L488.90,315.50 L489.25,315.00 L489.61,314.50 L489.96,314.00 L490.32,313.50 L490.68,313.00 L491.04,312.50 L491.40,312.00 L491.77,311.50 L492.13,311.00 L492.50,310.50 L492.86,310.00 L493.23,309.50 L493.59,309.00 L493.96,308.50 L494.32,308.00 L494.67,307.50 L495.02,307.00 L495.37,306.50 L495.71,306.00 L496.04,305.50 L496.36,305.00 L496.68,304.50 L496.99,304.00 L497.29,303.50 L497.58,303.00 L497.87,302.50 L498.15,302.00 L498.41,301.50 L498.67,301.00 L498.91,300.50 L499.15,300.00 L499.36,299.50 L499.56,299.00 L499.75,298.50 L499.91,298.00 L500.07,297.50 L500.21,297.00 L500.33,296.50 L500.44,296.00 L500.55,295.50 L500.64,295.00 L500.73,294.50 L500.81,294.00 L500.89,293.50 L500.96,293.00 L501.03,292.50 L501.10,292.00 L501.17,291.50 L501.24,291.00 L501.30,290.50 L501.37,290.00 L501.43,289.50 L501.49,289.00 L501.56,288.50 L501.62,288.00 L501.68,287.50 L501.75,287.00 L501.82,286.50 L501.89,286.00 L501.97,285.50 L502.06,285.00 L502.15,284.50 L502.26,284.00 L502.37,283.50 L502.50,283.00 L502.64,282.50 L502.79,282.00 L502.96,281.50 L503.14,281.00 L503.32,280.50 L503.52,280.00 L503.73,279.50 L503.95,279.00 L504.18,278.50 L504.42,278.00 L504.67,277.50 L504.93,277.00 L505.20,276.50 L505.47,276.00 L505.76,275.50 L506.06,275.00 L506.37,274.50 L506.69,274.00 L507.02,273.50 L507.35,273.00 L507.69,272.50 L508.04,272.00 L508.39,271.50 L508.74,271.00 L509.09,270.50 L509.44,270.00 L509.79,269.50 L510.14,269.00 L510.49,268.50 L510.83,268.00 L511.18,267.50 L511.52,267.00 L511.87,266.50 L512.21,266.00 L512.56,265.50 L512.91,265.00 L513.26,264.50 L513.61,264.00 L513.97,263.50 L514.33,263.00 L514.70,262.50 L515.07,262.00 L515.44,261.50 L515.82,261.00 L516.21,260.50 L516.59,260.00 L516.99,259.50 L517.38,259.00 L517.78,258.50 L518.18,258.00 L518.58,257.50 L518.98,257.00 L519.39,256.50 L519.79,256.00 L520.19,255.50 L520.60,255.00 L521.00,254.50 L521.40,254.00 L521.81,253.50 L522.21,253.00 L522.61,252.50 L523.01,252.00 L523.41,251.50 L523.81,251.00 L524.21,250.50 L524.60,250.00 L524.99,249.50 L525.38,249.00 L525.77,248.50 L526.15,248.00 L526.53,247.50 L526.91,247.00 L527.29,246.50 L527.66,246.00 L528.03,245.50 L528.39,245.00 L528.75,244.50 L529.11,244.00 L529.46,243.50 L529.81,243.00 L530.16,242.50 L530.50,242.00 L530.83,241.50 L531.17,241.00 L531.49,240.50 L531.82,240.00 L532.14,239.50 L532.45,239.00 L532.76,238.50 L533.07,238.00 L533.37,237.50 L533.66,237.00 L533.94,236.50 L534.22,236.00 L534.49,235.50 L534.76,235.00 L535.01,234.50 L535.25,234.00 L535.49,233.50 L535.72,233.00 L535.95,232.50 L536.16,232.00 L536.38,231.50 L536.58,231.00 L536.78,230.50 L536.98,230.00 L537.17,229.50 L537.36,229.00 L537.54,228.50 L537.71,228.00 L537.88,227.50 L538.05,227.00 L538.21,226.50 L538.36,226.00 L538.51,225.50 L538.66,225.00 L538.80,224.50 L538.94,224.00 L539.08,223.50 L539.22,223.00 L539.36,222.50 L539.50,222.00 L539.64,221.50 L539.79,221.00 L539.93,220.50 L540.08,220.00 L540.23,219.50 L540.39,219.00 L540.54,218.50 L540.70,218.00 L540.85,217.50 L541.01,217.00 L541.16,216.50 L541.32,216.00 L541.47,215.50 L541.63,215.00 L541.78,214.50 L541.94,214.00 L542.09,213.50 L542.25,213.00 L542.41,212.50 L542.56,212.00 L542.72,211.50 L542.88,211.00 L543.04,210.50 L543.20,210.00 L543.35,209.50 L543.50,209.00 L543.65,208.50 L543.80,208.00 L543.94,207.50 L544.07,207.00 L544.21,206.50 L544.34,206.00 L544.48,205.50 L544.62,205.00 L544.76,204.50 L544.90,204.00 L545.03,203.50 L545.15,203.00 L545.27,202.50 L545.38,202.00 L545.48,201.50 L545.57,201.00 L545.64,200.50 L545.70,200.00 L545.75,199.50 L545.79,199.00 L545.84,198.50 L545.88,198.00 L545.91,197.50 L545.95,197.00 L545.98,196.50 L546.01,196.00 L546.04,195.50 L546.07,195.00 L546.10,194.50 L546.12,194.00 L546.15,193.50 L546.17,193.00 L546.19,192.50 L546.21,192.00 L546.24,191.50 L546.26,191.00 L546.28,190.50 L546.30,190.00 L546.32,189.50 L546.34,189.00 L546.36,188.50 L546.39,188.00 L546.41,187.50 L546.43,187.00 L546.45,186.50 L546.47,186.00 L546.49,185.50 L546.51,185.00 L546.53,184.50 L546.55,184.00 L546.56,183.50 L546.58,183.00 L546.60,182.50 L546.62,182.00 L546.63,181.50 L546.65,181.00 L546.67,180.50 L546.68,180.00 L546.70,179.50 L546.71,179.00 L546.72,178.50 L546.74,178.00 L546.75,177.50 L546.76,177.00 L546.77,176.50 L546.78,176.00 L546.79,175.50 L546.80,175.00Z" fill="#FF7362" stroke="#83392d" stroke-width="1.4"/>
<path d="M694.00,195.00 L694.01,195.50 L694.03,196.00 L694.05,196.50 L694.06,197.00 L694.08,197.50 L694.10,198.00 L694.12,198.50 L694.14,199.00 L694.16,199.50 L694.19,200.00 L694.21,200.50 L694.23,201.00 L694.26,201.50 L694.28,202.00 L694.31,202.50 L694.33,203.00 L694.36,203.50 L694.39,204.00 L694.41,204.50 L694.44,205.00 L694.47,205.50 L694.50,206.00 L694.53,206.50 L694.56,207.00 L694.59,207.50 L694.62,208.00 L694.65,208.50 L694.68,209.00 L694.72,209.50 L694.75,210.00 L694.79,210.50 L694.83,211.00 L694.87,211.50 L694.91,212.00 L694.95,212.50 L695.00,213.00 L695.04,213.50 L695.09,214.00 L695.15,214.50 L695.20,215.00 L695.26,215.50 L695.33,216.00 L695.40,216.50 L695.48,217.00 L695.56,217.50 L695.65,218.00 L695.75,218.50 L695.85,219.00 L695.95,219.50 L696.05,220.00 L696.16,220.50 L696.27,221.00 L696.39,221.50 L696.50,222.00 L696.62,222.50 L696.74,223.00 L696.87,223.50 L697.01,224.00 L697.15,224.50 L697.30,225.00 L697.45,225.50 L697.61,226.00 L697.77,226.50 L697.93,227.00 L698.09,227.50 L698.26,228.00 L698.43,228.50 L698.60,229.00 L698.78,229.50 L698.95,230.00 L699.14,230.50 L699.32,231.00 L699.51,231.50 L699.71,232.00 L699.91,232.50 L700.11,233.00 L700.32,233.50 L700.53,234.00 L700.74,234.50 L700.96,235.00 L701.18,235.50 L701.41,236.00 L701.64,236.50 L701.88,237.00 L702.12,237.50 L702.36,238.00 L702.62,238.50 L702.87,239.00 L703.13,239.50 L703.40,240.00 L703.68,240.50 L703.96,241.00 L704.24,241.50 L704.54,242.00 L704.84,242.50 L705.15,243.00 L705.47,243.50 L705.79,244.00 L706.13,244.50 L706.47,245.00 L706.82,245.50 L707.17,246.00 L707.53,246.50 L707.88,247.00 L708.24,247.50 L708.60,248.00 L708.95,248.50 L709.31,249.00 L709.66,249.50 L710.02,250.00 L710.37,250.50 L710.72,251.00 L711.07,251.50 L711.43,252.00 L711.78,252.50 L712.12,253.00 L712.47,253.50 L712.82,254.00 L713.16,254.50 L713.50,255.00 L713.83,255.50 L714.17,256.00 L714.50,256.50 L714.82,257.00 L715.14,257.50 L715.46,258.00 L715.78,258.50 L716.09,259.00 L716.41,259.50 L716.72,260.00 L717.04,260.50 L717.35,261.00 L717.67,261.50 L717.99,262.00 L718.31,262.50 L718.63,263.00 L718.96,263.50 L719.29,264.00 L719.62,264.50 L719.96,265.00 L720.30,265.50 L720.64,266.00 L720.98,266.50 L721.33,267.00 L721.67,267.50 L722.02,268.00 L722.36,268.50 L722.71,269.00 L723.06,269.50 L723.40,270.00 L723.75,270.50 L724.10,271.00 L724.45,271.50 L724.79,272.00 L725.14,272.50 L725.49,273.00 L725.83,273.50 L726.17,274.00 L726.51,274.50 L726.85,275.00 L727.19,275.50 L727.52,276.00 L727.84,276.50 L728.16,277.00 L728.48,277.50 L728.79,278.00 L729.10,278.50 L729.41,279.00 L729.71,279.50 L730.01,280.00 L730.30,280.50 L730.60,281.00 L730.88,281.50 L731.17,282.00 L731.45,282.50 L731.73,283.00 L732.00,283.50 L732.27,284.00 L732.54,284.50 L732.80,285.00 L733.06,285.50 L733.32,286.00 L733.57,286.50 L733.82,287.00 L734.07,287.50 L734.32,288.00 L734.57,288.50 L734.82,289.00 L735.06,289.50 L735.31,290.00 L735.56,290.50 L735.81,291.00 L736.06,291.50 L736.31,292.00 L736.55,292.50 L736.80,293.00 L737.05,293.50 L737.30,294.00 L737.55,294.50 L737.80,295.00 L738.05,295.50 L738.30,296.00 L738.55,296.50 L738.80,297.00 L739.06,297.50 L739.31,298.00 L739.56,298.50 L739.80,299.00 L740.05,299.50 L740.29,300.00 L740.53,300.50 L740.77,301.00 L741.00,301.50 L741.23,302.00 L741.45,302.50 L741.66,303.00 L741.87,303.50 L742.07,304.00 L742.26,304.50 L742.45,305.00 L742.63,305.50 L742.81,306.00 L742.98,306.50 L743.15,307.00 L743.31,307.50 L743.47,308.00 L743.62,308.50 L743.78,309.00 L743.92,309.50 L744.07,310.00 L744.21,310.50 L744.35,311.00 L744.49,311.50 L744.62,312.00 L744.75,312.50 L744.88,313.00 L745.00,313.50 L745.12,314.00 L745.24,314.50 L745.35,315.00 L745.47,315.50 L745.58,316.00 L745.69,316.50 L745.79,317.00 L745.90,317.50 L746.00,318.00 L746.11,318.50 L746.21,319.00 L746.31,319.50 L746.42,320.00 L746.52,320.50 L746.62,321.00 L746.72,321.50 L746.82,322.00 L746.91,322.50 L747.00,323.00 L747.09,323.50 L747.18,324.00 L747.26,324.50 L747.33,325.00 L747.40,325.50 L747.47,326.00 L747.53,326.50 L747.58,327.00 L747.63,327.50 L747.66,328.00 L747.70,328.50 L747.72,329.00 L747.74,329.50 L747.76,330.00 L747.77,330.50 L747.78,331.00 L747.78,331.50 L747.78,332.00 L747.78,332.50 L747.77,333.00 L747.77,333.50 L747.76,334.00 L747.75,334.50 L747.74,335.00 L747.73,335.50 L747.72,336.00 L747.71,336.50 L747.69,337.00 L747.68,337.50 L747.66,338.00 L747.64,338.50 L747.63,339.00 L747.61,339.50 L747.59,340.00 L747.56,340.50 L747.54,341.00 L747.51,341.50 L747.48,342.00 L747.45,342.50 L747.41,343.00 L747.36,343.50 L747.31,344.00 L747.24,344.50 L747.16,345.00 L747.07,345.50 L746.97,346.00 L746.86,346.50 L746.74,347.00 L746.61,347.50 L746.48,348.00 L746.33,348.50 L746.19,349.00 L746.04,349.50 L745.90,350.00 L745.75,350.50 L745.61,351.00 L745.47,351.50 L745.32,352.00 L745.18,352.50 L745.04,353.00 L744.90,353.50 L744.75,354.00 L744.61,354.50 L744.46,355.00 L744.30,355.50 L744.15,356.00 L743.99,356.50 L743.82,357.00 L743.65,357.50 L743.47,358.00 L743.29,358.50 L743.10,359.00 L742.91,359.50 L742.72,360.00 L742.52,360.50 L742.31,361.00 L742.11,361.50 L741.90,362.00 L741.70,362.50 L741.49,363.00 L741.28,363.50 L741.07,364.00 L740.87,364.50 L740.66,365.00 L740.46,365.50 L740.26,366.00 L740.06,366.50 L739.86,367.00 L739.66,367.50 L739.46,368.00 L739.27,368.50 L739.08,369.00 L738.89,369.50 L738.70,370.00 L738.52,370.50 L738.34,371.00 L738.16,371.50 L737.99,372.00 L737.82,372.50 L737.66,373.00 L737.49,373.50 L737.33,374.00 L737.18,374.50 L737.02,375.00 L736.86,375.50 L736.71,376.00 L736.56,376.50 L736.40,377.00 L736.25,377.50 L736.10,378.00 L735.95,378.50 L735.80,379.00 L735.64,379.50 L735.49,380.00 L735.34,380.50 L735.19,381.00 L735.04,381.50 L734.89,382.00 L734.74,382.50 L734.59,383.00 L734.44,383.50 L734.29,384.00 L734.15,384.50 L734.00,385.00 L733.85,385.50 L733.70,386.00 L733.55,386.50 L733.40,387.00 L733.26,387.50 L733.11,388.00 L732.97,388.50 L732.82,389.00 L732.68,389.50 L732.55,390.00 L732.42,390.50 L732.29,391.00 L732.16,391.50 L732.04,392.00 L731.93,392.50 L731.82,393.00 L731.71,393.50 L731.60,394.00 L731.50,394.50 L731.40,395.00 L731.30,395.50 L731.20,396.00 L731.10,396.50 L731.00,397.00 L730.90,397.50 L730.79,398.00 L730.68,398.50 L730.57,399.00 L730.45,399.50 L730.33,400.00 L730.21,400.50 L730.08,401.00 L729.94,401.50 L729.81,402.00 L729.67,402.50 L729.52,403.00 L729.37,403.50 L729.21,404.00 L729.05,404.50 L728.87,405.00 L728.70,405.50 L728.51,406.00 L728.31,406.50 L728.10,407.00 L727.88,407.50 L727.64,408.00 L727.40,408.50 L727.14,409.00 L726.87,409.50 L726.59,410.00 L726.30,410.50 L726.00,411.00 L725.69,411.50 L725.38,412.00 L725.06,412.50 L724.73,413.00 L724.39,413.50 L724.05,414.00 L723.71,414.50 L723.36,415.00 L723.00,415.50 L722.64,416.00 L722.28,416.50 L721.91,417.00 L721.54,417.50 L721.16,418.00 L720.79,418.50 L720.42,419.00 L720.05,419.50 L719.68,420.00 L719.31,420.50 L718.95,421.00 L718.60,421.50 L718.24,422.00 L717.89,422.50 L717.54,423.00 L717.20,423.50 L716.85,424.00 L716.50,424.50 L716.15,425.00 L715.80,425.50 L715.44,426.00 L715.08,426.50 L714.71,427.00 L714.34,427.50 L713.97,428.00 L713.58,428.50 L713.20,429.00 L712.80,429.50 L712.41,430.00 L712.01,430.50 L711.61,431.00 L711.21,431.50 L710.81,432.00 L710.41,432.50 L710.02,433.00 L709.63,433.50 L709.24,434.00 L708.86,434.50 L708.48,435.00 L708.10,435.50 L707.73,436.00 L707.37,436.50 L707.00,437.00 L706.64,437.50 L706.29,438.00 L705.94,438.50 L705.60,439.00 L705.27,439.50 L704.94,440.00 L704.62,440.50 L704.31,441.00 L704.02,441.50 L703.73,442.00 L703.44,442.50 L703.17,443.00 L702.90,443.50 L702.63,444.00 L702.37,444.50 L702.12,445.00 L701.88,445.50 L701.63,446.00 L701.39,446.50 L701.16,447.00 L700.93,447.50 L700.70,448.00 L700.48,448.50 L700.25,449.00 L700.03,449.50 L699.80,450.00 L699.58,450.50 L699.36,451.00 L699.15,451.50 L698.94,452.00 L698.74,452.50 L698.55,453.00 L698.37,453.50 L698.20,454.00 L698.04,454.50 L697.90,455.00 L697.77,455.50 L697.65,456.00 L697.53,456.50 L697.41,457.00 L697.31,457.50 L697.20,458.00 L697.10,458.50 L697.01,459.00 L696.92,459.50 L696.83,460.00 L696.74,460.50 L696.66,461.00 L696.58,461.50 L696.50,462.00 L696.42,462.50 L696.35,463.00 L696.27,463.50 L696.20,464.00 L696.13,464.50 L696.06,465.00 L696.00,465.50 L695.93,466.00 L695.87,466.50 L695.81,467.00 L695.75,467.50 L695.70,468.00 L695.65,468.50 L695.60,469.00 L695.55,469.50 L695.51,470.00 L695.47,470.50 L695.43,471.00 L695.39,471.50 L695.35,472.00 L695.32,472.50 L695.28,473.00 L695.25,473.50 L695.22,474.00 L695.19,474.50 L695.15,475.00 L695.12,475.50 L695.09,476.00 L695.06,476.50 L695.02,477.00 L694.99,477.50 L694.96,478.00 L694.92,478.50 L694.88,479.00 L694.84,479.50 L694.80,480.00 L694.76,480.50 L694.71,481.00 L694.67,481.50 L694.62,482.00 L694.57,482.50 L694.53,483.00 L694.48,483.50 L694.43,484.00 L694.38,484.50 L694.32,485.00 L694.27,485.50 L694.22,486.00 L694.16,486.50 L694.11,487.00 L694.06,487.50 L694.00,488.00 L694.00,488.00 L693.94,487.50 L693.89,487.00 L693.84,486.50 L693.78,486.00 L693.73,485.50 L693.68,485.00 L693.62,484.50 L693.57,484.00 L693.52,483.50 L693.47,483.00 L693.43,482.50 L693.38,482.00 L693.33,481.50 L693.29,481.00 L693.24,480.50 L693.20,480.00 L693.16,479.50 L693.12,479.00 L693.08,478.50 L693.04,478.00 L693.01,477.50 L692.98,477.00 L692.94,476.50 L692.91,476.00 L692.88,475.50 L692.85,475.00 L692.81,474.50 L692.78,474.00 L692.75,473.50 L692.72,473.00 L692.68,472.50 L692.65,472.00 L692.61,471.50 L692.57,471.00 L692.53,470.50 L692.49,470.00 L692.45,469.50 L692.40,469.00 L692.35,468.50 L692.30,468.00 L692.25,467.50 L692.19,467.00 L692.13,466.50 L692.07,466.00 L692.00,465.50 L691.94,465.00 L691.87,464.50 L691.80,464.00 L691.73,463.50 L691.65,463.00 L691.58,462.50 L691.50,462.00 L691.42,461.50 L691.34,461.00 L691.26,460.50 L691.17,460.00 L691.08,459.50 L690.99,459.00 L690.90,458.50 L690.80,458.00 L690.69,457.50 L690.59,457.00 L690.47,456.50 L690.35,456.00 L690.23,455.50 L690.10,455.00 L689.96,454.50 L689.80,454.00 L689.63,453.50 L689.45,453.00 L689.26,452.50 L689.06,452.00 L688.85,451.50 L688.64,451.00 L688.42,450.50 L688.20,450.00 L687.97,449.50 L687.75,449.00 L687.52,448.50 L687.30,448.00 L687.07,447.50 L686.84,447.00 L686.61,446.50 L686.37,446.00 L686.12,445.50 L685.88,445.00 L685.63,444.50 L685.37,444.00 L685.10,443.50 L684.83,443.00 L684.56,442.50 L684.27,442.00 L683.98,441.50 L683.69,441.00 L683.38,440.50 L683.06,440.00 L682.73,439.50 L682.40,439.00 L682.06,438.50 L681.71,438.00 L681.36,437.50 L681.00,437.00 L680.63,436.50 L680.27,436.00 L679.90,435.50 L679.52,435.00 L679.14,434.50 L678.76,434.00 L678.37,433.50 L677.98,433.00 L677.59,432.50 L677.19,432.00 L676.79,431.50 L676.39,431.00 L675.99,430.50 L675.59,430.00 L675.20,429.50 L674.80,429.00 L674.42,428.50 L674.03,428.00 L673.66,427.50 L673.29,427.00 L672.92,426.50 L672.56,426.00 L672.20,425.50 L671.85,425.00 L671.50,424.50 L671.15,424.00 L670.80,423.50 L670.46,423.00 L670.11,422.50 L669.76,422.00 L669.40,421.50 L669.05,421.00 L668.69,420.50 L668.32,420.00 L667.95,419.50 L667.58,419.00 L667.21,418.50 L666.84,418.00 L666.46,417.50 L666.09,417.00 L665.72,416.50 L665.36,416.00 L665.00,415.50 L664.64,415.00 L664.29,414.50 L663.95,414.00 L663.61,413.50 L663.27,413.00 L662.94,412.50 L662.62,412.00 L662.31,411.50 L662.00,411.00 L661.70,410.50 L661.41,410.00 L661.13,409.50 L660.86,409.00 L660.60,408.50 L660.36,408.00 L660.12,407.50 L659.90,407.00 L659.69,406.50 L659.49,406.00 L659.30,405.50 L659.13,405.00 L658.95,404.50 L658.79,404.00 L658.63,403.50 L658.48,403.00 L658.33,402.50 L658.19,402.00 L658.06,401.50 L657.92,401.00 L657.79,400.50 L657.67,400.00 L657.55,399.50 L657.43,399.00 L657.32,398.50 L657.21,398.00 L657.10,397.50 L657.00,397.00 L656.90,396.50 L656.80,396.00 L656.70,395.50 L656.60,395.00 L656.50,394.50 L656.40,394.00 L656.29,393.50 L656.18,393.00 L656.07,392.50 L655.96,392.00 L655.84,391.50 L655.71,391.00 L655.58,390.50 L655.45,390.00 L655.32,389.50 L655.18,389.00 L655.03,388.50 L654.89,388.00 L654.74,387.50 L654.60,387.00 L654.45,386.50 L654.30,386.00 L654.15,385.50 L654.00,385.00 L653.85,384.50 L653.71,384.00 L653.56,383.50 L653.41,383.00 L653.26,382.50 L653.11,382.00 L652.96,381.50 L652.81,381.00 L652.66,380.50 L652.51,380.00 L652.36,379.50 L652.20,379.00 L652.05,378.50 L651.90,378.00 L651.75,377.50 L651.60,377.00 L651.44,376.50 L651.29,376.00 L651.14,375.50 L650.98,375.00 L650.82,374.50 L650.67,374.00 L650.51,373.50 L650.34,373.00 L650.18,372.50 L650.01,372.00 L649.84,371.50 L649.66,371.00 L649.48,370.50 L649.30,370.00 L649.11,369.50 L648.92,369.00 L648.73,368.50 L648.54,368.00 L648.34,367.50 L648.14,367.00 L647.94,366.50 L647.74,366.00 L647.54,365.50 L647.34,365.00 L647.13,364.50 L646.93,364.00 L646.72,363.50 L646.51,363.00 L646.30,362.50 L646.10,362.00 L645.89,361.50 L645.69,361.00 L645.48,360.50 L645.28,360.00 L645.09,359.50 L644.90,359.00 L644.71,358.50 L644.53,358.00 L644.35,357.50 L644.18,357.00 L644.01,356.50 L643.85,356.00 L643.70,355.50 L643.54,355.00 L643.39,354.50 L643.25,354.00 L643.10,353.50 L642.96,353.00 L642.82,352.50 L642.68,352.00 L642.53,351.50 L642.39,351.00 L642.25,350.50 L642.10,350.00 L641.96,349.50 L641.81,349.00 L641.67,348.50 L641.52,348.00 L641.39,347.50 L641.26,347.00 L641.14,346.50 L641.03,346.00 L640.93,345.50 L640.84,345.00 L640.76,344.50 L640.69,344.00 L640.64,343.50 L640.59,343.00 L640.55,342.50 L640.52,342.00 L640.49,341.50 L640.46,341.00 L640.44,340.50 L640.41,340.00 L640.39,339.50 L640.37,339.00 L640.36,338.50 L640.34,338.00 L640.32,337.50 L640.31,337.00 L640.29,336.50 L640.28,336.00 L640.27,335.50 L640.26,335.00 L640.25,334.50 L640.24,334.00 L640.23,333.50 L640.23,333.00 L640.22,332.50 L640.22,332.00 L640.22,331.50 L640.22,331.00 L640.23,330.50 L640.24,330.00 L640.26,329.50 L640.28,329.00 L640.30,328.50 L640.34,328.00 L640.37,327.50 L640.42,327.00 L640.47,326.50 L640.53,326.00 L640.60,325.50 L640.67,325.00 L640.74,324.50 L640.82,324.00 L640.91,323.50 L641.00,323.00 L641.09,322.50 L641.18,322.00 L641.28,321.50 L641.38,321.00 L641.48,320.50 L641.58,320.00 L641.69,319.50 L641.79,319.00 L641.89,318.50 L642.00,318.00 L642.10,317.50 L642.21,317.00 L642.31,316.50 L642.42,316.00 L642.53,315.50 L642.65,315.00 L642.76,314.50 L642.88,314.00 L643.00,313.50 L643.12,313.00 L643.25,312.50 L643.38,312.00 L643.51,311.50 L643.65,311.00 L643.79,310.50 L643.93,310.00 L644.08,309.50 L644.22,309.00 L644.38,308.50 L644.53,308.00 L644.69,307.50 L644.85,307.00 L645.02,306.50 L645.19,306.00 L645.37,305.50 L645.55,305.00 L645.74,304.50 L645.93,304.00 L646.13,303.50 L646.34,303.00 L646.55,302.50 L646.77,302.00 L647.00,301.50 L647.23,301.00 L647.47,300.50 L647.71,300.00 L647.95,299.50 L648.20,299.00 L648.44,298.50 L648.69,298.00 L648.94,297.50 L649.20,297.00 L649.45,296.50 L649.70,296.00 L649.95,295.50 L650.20,295.00 L650.45,294.50 L650.70,294.00 L650.95,293.50 L651.20,293.00 L651.45,292.50 L651.69,292.00 L651.94,291.50 L652.19,291.00 L652.44,290.50 L652.69,290.00 L652.94,289.50 L653.18,289.00 L653.43,288.50 L653.68,288.00 L653.93,287.50 L654.18,287.00 L654.43,286.50 L654.68,286.00 L654.94,285.50 L655.20,285.00 L655.46,284.50 L655.73,284.00 L656.00,283.50 L656.27,283.00 L656.55,282.50 L656.83,282.00 L657.12,281.50 L657.40,281.00 L657.70,280.50 L657.99,280.00 L658.29,279.50 L658.59,279.00 L658.90,278.50 L659.21,278.00 L659.52,277.50 L659.84,277.00 L660.16,276.50 L660.48,276.00 L660.81,275.50 L661.15,275.00 L661.49,274.50 L661.83,274.00 L662.17,273.50 L662.51,273.00 L662.86,272.50 L663.21,272.00 L663.55,271.50 L663.90,271.00 L664.25,270.50 L664.60,270.00 L664.94,269.50 L665.29,269.00 L665.64,268.50 L665.98,268.00 L666.33,267.50 L666.67,267.00 L667.02,266.50 L667.36,266.00 L667.70,265.50 L668.04,265.00 L668.38,264.50 L668.71,264.00 L669.04,263.50 L669.37,263.00 L669.69,262.50 L670.01,262.00 L670.33,261.50 L670.65,261.00 L670.96,260.50 L671.28,260.00 L671.59,259.50 L671.91,259.00 L672.22,258.50 L672.54,258.00 L672.86,257.50 L673.18,257.00 L673.50,256.50 L673.83,256.00 L674.17,255.50 L674.50,255.00 L674.84,254.50 L675.18,254.00 L675.53,253.50 L675.88,253.00 L676.22,252.50 L676.57,252.00 L676.93,251.50 L677.28,251.00 L677.63,250.50 L677.98,250.00 L678.34,249.50 L678.69,249.00 L679.05,248.50 L679.40,248.00 L679.76,247.50 L680.12,247.00 L680.47,246.50 L680.83,246.00 L681.18,245.50 L681.53,245.00 L681.87,244.50 L682.21,244.00 L682.53,243.50 L682.85,243.00 L683.16,242.50 L683.46,242.00 L683.76,241.50 L684.04,241.00 L684.32,240.50 L684.60,240.00 L684.87,239.50 L685.13,239.00 L685.38,238.50 L685.64,238.00 L685.88,237.50 L686.12,237.00 L686.36,236.50 L686.59,236.00 L686.82,235.50 L687.04,235.00 L687.26,234.50 L687.47,234.00 L687.68,233.50 L687.89,233.00 L688.09,232.50 L688.29,232.00 L688.49,231.50 L688.68,231.00 L688.86,230.50 L689.05,230.00 L689.22,229.50 L689.40,229.00 L689.57,228.50 L689.74,228.00 L689.91,227.50 L690.07,227.00 L690.23,226.50 L690.39,226.00 L690.55,225.50 L690.70,225.00 L690.85,224.50 L690.99,224.00 L691.13,223.50 L691.26,223.00 L691.38,222.50 L691.50,222.00 L691.61,221.50 L691.73,221.00 L691.84,220.50 L691.95,220.00 L692.05,219.50 L692.15,219.00 L692.25,218.50 L692.35,218.00 L692.44,217.50 L692.52,217.00 L692.60,216.50 L692.67,216.00 L692.74,215.50 L692.80,215.00 L692.85,214.50 L692.91,214.00 L692.96,213.50 L693.00,213.00 L693.05,212.50 L693.09,212.00 L693.13,211.50 L693.17,211.00 L693.21,210.50 L693.25,210.00 L693.28,209.50 L693.32,209.00 L693.35,208.50 L693.38,208.00 L693.41,207.50 L693.44,207.00 L693.47,206.50 L693.50,206.00 L693.53,205.50 L693.56,205.00 L693.59,204.50 L693.61,204.00 L693.64,203.50 L693.67,203.00 L693.69,202.50 L693.72,202.00 L693.74,201.50 L693.77,201.00 L693.79,200.50 L693.81,200.00 L693.84,199.50 L693.86,199.00 L693.88,198.50 L693.90,198.00 L693.92,197.50 L693.94,197.00 L693.95,196.50 L693.97,196.00 L693.99,195.50 L694.00,195.00Z" fill="#B6B0D6" stroke="#56526a" stroke-width="1.4"/>
<g fill="none" stroke="#2f6358" stroke-width="1.4">
<line x1="399.4" y1="247" x2="399.4" y2="317.2"/>
<line x1="399.4" y1="381.8" x2="399.4" y2="466"/>
<rect x="391.9" y="317.2" width="15.00" height="64.60"/>
<line x1="391.9" y1="351.5" x2="406.9" y2="351.5" stroke="#1d453c" stroke-width="2.3"/></g>
<g fill="none" stroke="#8a3326" stroke-width="1.4">
<line x1="546.8" y1="230" x2="546.8" y2="288.4"/>
<line x1="546.8" y1="356.1" x2="546.8" y2="415.5"/>
<rect x="539.2" y="288.4" width="15.10" height="67.70"/>
<line x1="539.2" y1="327.7" x2="554.3" y2="327.7" stroke="#6a1e14" stroke-width="2.3"/></g>
<g fill="none" stroke="#58537a" stroke-width="1.4">
<line x1="694" y1="264" x2="694" y2="305.6"/>
<line x1="694" y1="368.7" x2="694" y2="419.3"/>
<rect x="686.3" y="305.6" width="15.00" height="63.10"/>
<line x1="686.3" y1="343.9" x2="701.3" y2="343.9" stroke="#3c385a" stroke-width="2.3"/></g>
<g stroke="#333" stroke-width="1.6" stroke-linecap="round" opacity="0.85">
<line x1="399.3" y1="169" x2="399.3" y2="214"/>
<line x1="399.3" y1="490" x2="399.3" y2="533.5"/>
<line x1="546.7" y1="176" x2="546.7" y2="200"/>
<line x1="546.7" y1="448" x2="546.7" y2="470.5"/>
<line x1="694" y1="196" x2="694" y2="219"/>
<line x1="694" y1="468" x2="694" y2="487.5"/>
</g>
<circle cx="399.3" cy="209.8" r="1.3" fill="#111"/>
<circle cx="399.3" cy="214.5" r="1.3" fill="#111"/>
<circle cx="399.3" cy="492.5" r="1.5" fill="#111"/>
<text x="0" y="0" transform="translate(295.3,442.5) rotate(-90)" textLength="88" lengthAdjust="spacingAndGlyphs" font-family="Liberation Sans" font-size="16.5" fill="#e6f2ff" stroke="#e6f2ff" stroke-width="0.4">IFN Module</text>
<text x="483" y="115" textLength="96" lengthAdjust="spacingAndGlyphs" font-family="Liberation Sans" font-size="17.8" fill="#e6f2ff" stroke="#e6f2ff" stroke-width="0.4">IFN Module</text>
<text x="396.5" y="138.8" textLength="114" lengthAdjust="spacingAndGlyphs" font-family="Liberation Sans" font-weight="bold" font-size="16.6" fill="#111" stroke="#111" stroke-width="0.35">Tukey p=0.007</text>
<text x="373.5" y="569.3" textLength="41.5" lengthAdjust="spacingAndGlyphs" font-family="Liberation Sans" font-size="16" fill="#e6f2ff" stroke="#e6f2ff" stroke-width="0.4">white</text>
<text x="491" y="569.5" textLength="81.5" lengthAdjust="spacingAndGlyphs" font-family="Liberation Sans" font-size="15.6" fill="#e6f2ff" stroke="#e6f2ff" stroke-width="0.4">Black or AA</text>
<text x="652.5" y="569.3" textLength="40" lengthAdjust="spacingAndGlyphs" font-family="Liberation Sans" font-size="15.1" fill="#e6f2ff" stroke="#e6f2ff" stroke-width="0.4">Asian</text>
<g font-family="Liberation Sans" font-weight="bold" font-size="30" fill="#1C98D6" stroke="#1C98D6" stroke-width="0.7"><text x="6.0" y="50.1" textLength="122.08" lengthAdjust="spacingAndGlyphs">Immune</text><text x="136.5" y="50.1" textLength="137.02" lengthAdjust="spacingAndGlyphs">Signature</text><text x="284.0" y="50.1" textLength="152.06" lengthAdjust="spacingAndGlyphs">Expression</text><text x="447.5" y="50.1" textLength="144.5" lengthAdjust="spacingAndGlyphs">Variations</text><text x="600.0" y="50.1" textLength="104.58" lengthAdjust="spacingAndGlyphs">among</text><text x="710.5" y="50.1" textLength="170.55" lengthAdjust="spacingAndGlyphs">HR+/HER2-</text><text x="888.25" y="50.1" textLength="116.01" lengthAdjust="spacingAndGlyphs">Subtype</text></g>
</svg>
</body></html>
